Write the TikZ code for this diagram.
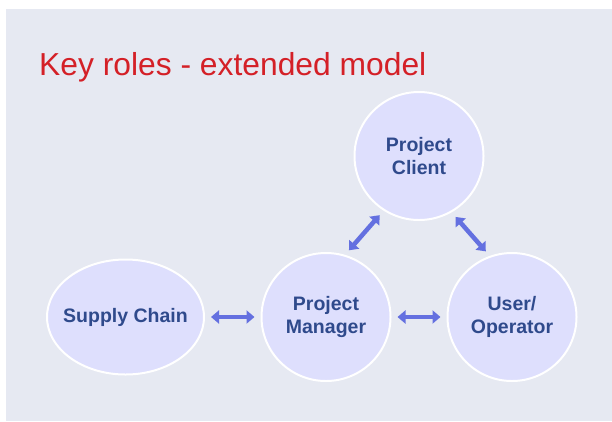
\documentclass[tikz,border=0pt]{standalone}
\usepackage{fontspec}
\setmainfont{Liberation Sans}
\usetikzlibrary{shapes.geometric,arrows.meta}
\definecolor{panel}{HTML}{E6E9F2}
\definecolor{bubble}{HTML}{DEDFFD}
\definecolor{roletext}{HTML}{2F4A8C}
\definecolor{linkblue}{HTML}{6470E0}
\definecolor{titlered}{HTML}{D42027}
\begin{document}
\begin{tikzpicture}[x=1pt,y=-1pt,
  role/.style={ellipse,fill=bubble,draw=white,line width=2pt,inner sep=0pt,
    font=\fontsize{19.5}{23}\selectfont\bfseries,text=roletext,align=center},
  link/.style={draw=linkblue,line width=4.5pt,
    {Triangle[width=13pt,length=8pt]}-{Triangle[width=13pt,length=8pt]},
    shorten <=6pt,shorten >=6pt}]
  \useasboundingbox (0,0) rectangle (612,421);
  \fill[white] (0,0) rectangle (612,421);
  \fill[panel] (6,9) rectangle (612,421);
  \node[anchor=base west,text=titlered,inner sep=0pt,
    font=\fontsize{31.8}{38}\selectfont] (title) at (39,75) {Key roles - extended model};
  \node[role,minimum width=129pt,minimum height=128pt] (pc) at (419,156) {Project\\Client};
  \node[role,minimum width=129pt,minimum height=128pt] (pm) at (326,317) {Project\\Manager};
  \node[role,minimum width=129pt,minimum height=128pt] (uo) at (512,317) {User/\\Operator};
  \node[role,minimum width=157pt,minimum height=115pt,inner xsep=-25pt] (sc) at (125.5,317) {Supply Chain};
  \draw[link] (sc.east) -- (pm.west);
  \draw[link] (pm.east) -- (uo.west);
  \draw[link] (pm.73) -- (pc.237);
  \draw[link] (pc.300) -- (uo.110);
\end{tikzpicture}
\end{document}
